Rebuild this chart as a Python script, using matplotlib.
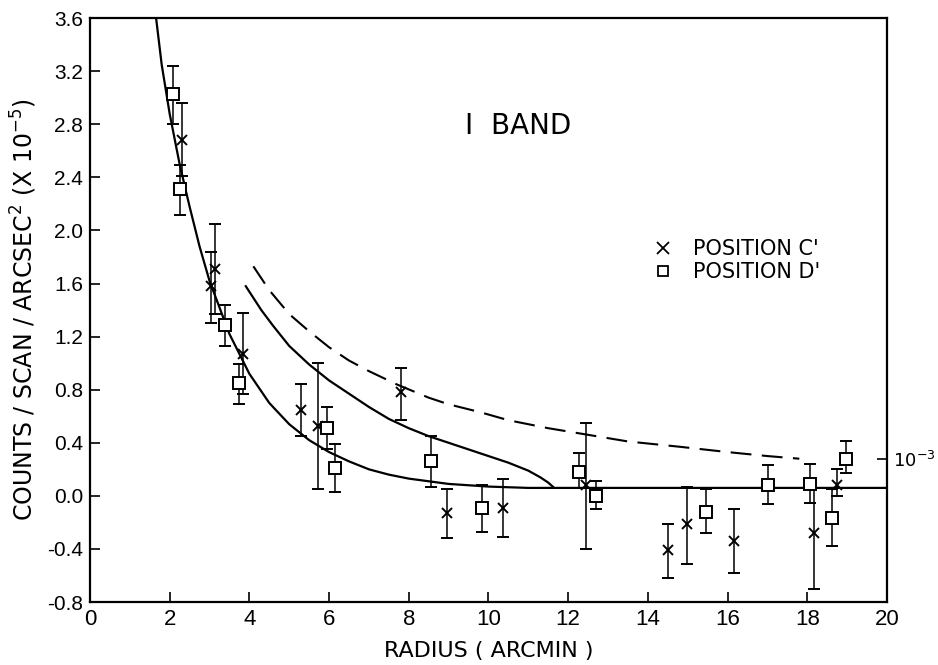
import numpy as np
import matplotlib
matplotlib.use("Agg")
import matplotlib.pyplot as plt
from matplotlib.lines import Line2D

# =========================
# Data
# =========================
# position C' (crosses): value, lower and upper end of error bar
c_x = [2.30, 3.05, 3.13, 3.85, 5.30, 5.73, 7.80, 8.95, 10.37, 12.45, 14.51, 14.99, 16.16, 18.17, 18.75]
c_y = [2.68, 1.58, 1.71, 1.07, 0.65, 0.53, 0.78, -0.13, -0.09, 0.08, -0.41, -0.21, -0.34, -0.28, 0.08]
c_lo = [2.41, 1.30, 1.37, 0.77, 0.45, 0.05, 0.57, -0.32, -0.31, -0.40, -0.62, -0.51, -0.58, -0.70, 0.00]
c_hi = [2.96, 1.84, 2.05, 1.38, 0.84, 1.00, 0.96, 0.05, 0.13, 0.55, -0.21, 0.07, -0.10, 0.06, 0.20]

# position D' (squares)
d_x = [2.09, 2.26, 3.39, 3.75, 5.96, 6.15, 8.55, 9.83, 12.27, 12.70, 15.47, 17.02, 18.07, 18.61, 18.96]
d_y = [3.03, 2.31, 1.29, 0.85, 0.51, 0.21, 0.26, -0.09, 0.18, 0.00, -0.12, 0.08, 0.09, -0.17, 0.28]
d_lo = [2.80, 2.12, 1.13, 0.69, 0.35, 0.03, 0.07, -0.27, 0.06, -0.10, -0.28, -0.06, -0.05, -0.38, 0.17]
d_hi = [3.24, 2.49, 1.44, 0.99, 0.67, 0.39, 0.45, 0.08, 0.32, 0.11, 0.05, 0.23, 0.24, 0.05, 0.41]

# steep solid curve (ends flat at background level)
fit_x = [1.66, 1.8, 2.0, 2.25, 2.5, 2.75, 3.0, 3.5, 4.0, 4.5, 5.0, 5.5, 6.0, 6.5, 7.0, 7.5, 8.0, 9.0, 10.0, 11.0, 12.0, 20.0]
fit_y = [3.60, 3.25, 2.88, 2.50, 2.18, 1.88, 1.62, 1.22, 0.92, 0.70, 0.54, 0.42, 0.33, 0.26, 0.20, 0.16, 0.13, 0.09, 0.07, 0.06, 0.06, 0.06]

# middle solid curve
mid_x = [3.91, 4.3, 4.6, 5.0, 5.5, 6.0, 6.5, 7.0, 7.5, 8.0, 8.5, 9.0, 9.5, 10.0, 10.5, 11.0, 11.3, 11.5, 11.63]
mid_y = [1.58, 1.40, 1.28, 1.13, 0.99, 0.87, 0.77, 0.67, 0.58, 0.51, 0.45, 0.40, 0.35, 0.30, 0.25, 0.19, 0.14, 0.10, 0.065]

# dashed curve
dash_x = [4.10, 4.5, 5.0, 5.5, 6.0, 6.5, 7.0, 7.7, 8.5, 9.0, 9.8, 10.5, 11.5, 12.5, 13.5, 14.8, 16.0, 17.0, 17.8]
dash_y = [1.73, 1.55, 1.37, 1.24, 1.12, 1.02, 0.94, 0.84, 0.74, 0.69, 0.63, 0.57, 0.51, 0.46, 0.41, 0.37, 0.33, 0.30, 0.28]

x_ticks = [0, 2, 4, 6, 8, 10, 12, 14, 16, 18, 20]
y_ticks = [-0.8, -0.4, 0.0, 0.4, 0.8, 1.2, 1.6, 2.0, 2.4, 2.8, 3.2, 3.6]
right_tick = [0.28]
right_label = ["$10^{-3}$"]

plt.rcParams["axes.unicode_minus"] = False
plt.rcParams["mathtext.fontset"] = "dejavusans"


def main():
    fig = plt.figure(figsize=(9.38, 6.65), dpi=100)
    ax = fig.add_axes([0.0959, 0.0947, 0.8497, 0.878])

    ax.plot(fit_x, fit_y, color="black", lw=1.6, zorder=2)
    ax.plot(mid_x, mid_y, color="black", lw=1.6, zorder=2)
    ax.plot(dash_x, dash_y, color="black", lw=1.5, ls=(0, (10, 5)), zorder=2)

    c_err = [np.array(c_y) - np.array(c_lo), np.array(c_hi) - np.array(c_y)]
    d_err = [np.array(d_y) - np.array(d_lo), np.array(d_hi) - np.array(d_y)]

    ax.errorbar(c_x, c_y, yerr=c_err, fmt="x", color="black", ms=7, mew=1.4,
                elinewidth=1.1, capsize=4, capthick=1.1, zorder=3)
    ax.errorbar(d_x, d_y, yerr=d_err, fmt="s", color="black", mfc="white", ms=8, mew=1.4,
                elinewidth=1.1, capsize=4, capthick=1.1, zorder=4)

    ax.set_xlim(0, 20)
    ax.set_ylim(-0.8, 3.6)
    ax.set_xticks(x_ticks)
    ax.set_yticks(y_ticks)
    ax.set_xticklabels([str(v) for v in x_ticks], family="Liberation Sans", fontsize=16)
    ax.set_yticklabels([f"{v:.1f}" for v in y_ticks], family="Liberation Sans", fontsize=15)
    ax.tick_params(direction="in", length=7, width=1.2, pad=5)
    for s in ax.spines.values():
        s.set_linewidth(1.6)

    sec = ax.secondary_yaxis("right")
    sec.set_yticks(right_tick, labels=right_label)
    sec.tick_params(direction="in", length=7, width=1.2, pad=4, labelsize=13)
    sec.spines["right"].set_visible(False)

    ax.set_xlabel("RADIUS ( ARCMIN )", fontsize=16, labelpad=8)
    ax.set_ylabel("COUNTS / SCAN / ARCSEC$^2$ (X 10$^{-5}$)", fontsize=17, labelpad=6)

    ax.text(0.537, 0.815, "I  BAND", transform=ax.transAxes, fontsize=20,
            ha="center", va="center")

    handles = [
        Line2D([], [], marker="x", ls="none", color="black", ms=8, mew=1.3),
        Line2D([], [], marker="s", ls="none", color="black", mfc="white", ms=7, mew=1.3),
    ]
    fig.legend(handles, ["POSITION C'", "POSITION D'"], loc="upper left",
               bbox_to_anchor=(0.685, 0.656), frameon=False, fontsize=15,
               handlelength=1.0, handletextpad=0.9, labelspacing=0.15, borderpad=0)

    fig.savefig("out.png", dpi=100)
    plt.close(fig)


if __name__ == "__main__":
    main()
